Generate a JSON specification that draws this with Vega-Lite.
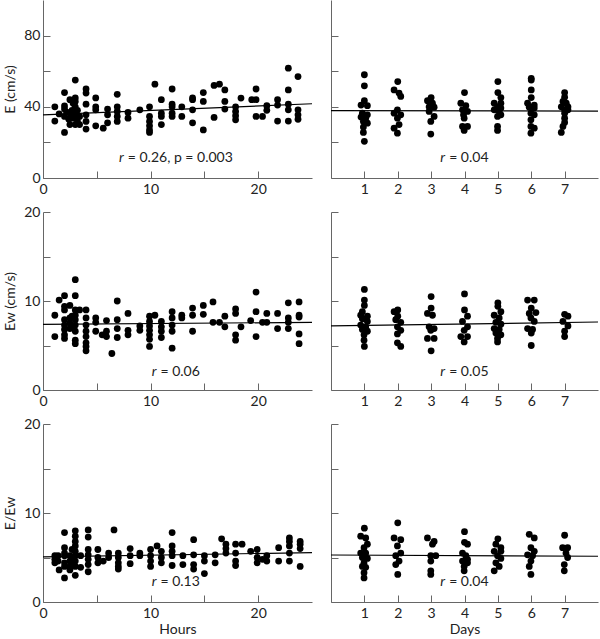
{
  "$schema": "https://vega.github.io/schema/vega-lite/v6.json",
  "autosize": {"type": "pad"},
  "padding": {"left": 3, "top": 0, "right": 0, "bottom": 0},
  "config": {
    "font": "Lato",
    "view": {"stroke": null},
    "axis": {
      "domainColor": "#666666", "tickColor": "#666666", "labelColor": "#222222", "titleColor": "#222222",
      "labelFontSize": 14, "titleFontSize": 14, "titleFontWeight": "normal",
      "tickSize": -7, "grid": false, "labelFlush": false
    },
    "axisX": {"labelPadding": 11, "titlePadding": 2},
    "axisY": {"labelPadding": 10, "minExtent": 22, "maxExtent": 22, "titlePadding": 4},
    "circle": {"size": 46, "color": "#000000", "opacity": 1},
    "line": {"color": "#000000", "strokeWidth": 1.2},
    "text": {"fontSize": 14, "color": "#222222", "baseline": "middle"}
  },
  "datasets": {
    "tl": [
      {"x":1.1,"y":40},{"x":1.1,"y":32},{"x":1.5,"y":36},{"x":2,"y":48},{"x":2,"y":40.5},{"x":2,"y":38.7},{"x":2,"y":34.6},{"x":2,"y":25.6},{"x":2.2,"y":37},{"x":2.4,"y":33},{"x":2.5,"y":44},{"x":2.5,"y":36.4},{"x":2.5,"y":30},{"x":2.7,"y":38},{"x":2.7,"y":33.6},{"x":2.8,"y":42},{"x":3,"y":55},{"x":3,"y":45},{"x":3,"y":43},{"x":3,"y":40},{"x":3,"y":35.5},{"x":3,"y":33.6},{"x":3,"y":30},{"x":3.2,"y":38},{"x":3.2,"y":32},{"x":3.4,"y":34.6},{"x":3.4,"y":30},{"x":4,"y":50},{"x":4,"y":47.7},{"x":4,"y":41.5},{"x":4,"y":35.5},{"x":4,"y":31.8},{"x":4,"y":27.5},{"x":4.9,"y":45},{"x":4.9,"y":40},{"x":4.9,"y":38.3},{"x":4.9,"y":29.3},{"x":5.6,"y":28},{"x":6,"y":38.7},{"x":6,"y":35.5},{"x":6,"y":31},{"x":6.9,"y":47},{"x":6.9,"y":40},{"x":6.9,"y":37.4},{"x":6.9,"y":34.6},{"x":6.9,"y":31.8},{"x":7.9,"y":36.8},{"x":7.9,"y":33.6},{"x":9,"y":38.3},{"x":9.9,"y":40},{"x":9.9,"y":34.6},{"x":9.9,"y":31.8},{"x":9.9,"y":29.3},{"x":9.9,"y":27},{"x":9.9,"y":25.6},{"x":10.4,"y":52.7},{"x":11,"y":44},{"x":11,"y":36.4},{"x":11,"y":34.6},{"x":11,"y":30},{"x":12,"y":50},{"x":12,"y":41.5},{"x":12,"y":40},{"x":12,"y":36.4},{"x":12,"y":34.6},{"x":12.9,"y":40},{"x":12.9,"y":34.6},{"x":13.9,"y":45},{"x":13.9,"y":44},{"x":13.9,"y":38.3},{"x":13.9,"y":31},{"x":14.9,"y":48},{"x":14.9,"y":43},{"x":14.9,"y":27},{"x":15.9,"y":52},{"x":15.9,"y":34},{"x":16.4,"y":52.7},{"x":16.9,"y":49.5},{"x":16.9,"y":43},{"x":16.9,"y":38.7},{"x":17.9,"y":40},{"x":17.9,"y":37.4},{"x":17.9,"y":35},{"x":17.9,"y":32.7},{"x":18.4,"y":44.9},{"x":19.4,"y":44},{"x":19.8,"y":50},{"x":19.8,"y":44},{"x":19.8,"y":34.6},{"x":20.4,"y":34.6},{"x":20.8,"y":40.6},{"x":20.8,"y":38},{"x":21.8,"y":44},{"x":21.8,"y":41},{"x":21.8,"y":32},{"x":22.8,"y":61.7},{"x":22.8,"y":49.5},{"x":22.8,"y":41.5},{"x":22.8,"y":38.3},{"x":22.8,"y":32},{"x":23.7,"y":57},{"x":23.7,"y":38.3},{"x":23.7,"y":35.5},{"x":23.7,"y":33}
    ],
    "ml": [
      {"x":1.1,"y":8.4},{"x":1.1,"y":6.0},{"x":1.5,"y":10.1},{"x":2,"y":10.6},{"x":2,"y":9.4},{"x":2,"y":9.0},{"x":2,"y":7.9},{"x":2,"y":7.3},{"x":2,"y":6.8},{"x":2,"y":6.2},{"x":2,"y":5.8},{"x":2.5,"y":9.5},{"x":2.5,"y":8.1},{"x":2.5,"y":7.5},{"x":2.5,"y":6.9},{"x":2.7,"y":8.3},{"x":2.7,"y":7.1},{"x":3,"y":12.4},{"x":3,"y":10.6},{"x":3,"y":9.0},{"x":3,"y":8.4},{"x":3,"y":7.9},{"x":3,"y":7.3},{"x":3,"y":6.6},{"x":3,"y":5.6},{"x":3,"y":5.2},{"x":3.4,"y":9.0},{"x":4,"y":9.0},{"x":4,"y":8.1},{"x":4,"y":7.3},{"x":4,"y":6.6},{"x":4,"y":6.0},{"x":4,"y":5.3},{"x":4,"y":4.9},{"x":4,"y":4.4},{"x":4.9,"y":8.1},{"x":4.9,"y":7.6},{"x":4.9,"y":6.6},{"x":5.5,"y":6.2},{"x":5.9,"y":7.8},{"x":5.9,"y":6.6},{"x":5.9,"y":6.0},{"x":6.4,"y":4.1},{"x":6.9,"y":10.0},{"x":6.9,"y":7.9},{"x":6.9,"y":6.9},{"x":6.9,"y":5.9},{"x":7.9,"y":8.6},{"x":7.9,"y":6.7},{"x":7.9,"y":6.2},{"x":9,"y":7.2},{"x":9,"y":6.7},{"x":9.9,"y":8.3},{"x":9.9,"y":7.7},{"x":9.9,"y":7.2},{"x":9.9,"y":6.7},{"x":9.9,"y":6.2},{"x":9.9,"y":5.7},{"x":9.9,"y":4.9},{"x":10.4,"y":8.4},{"x":11,"y":7.7},{"x":11,"y":7.1},{"x":11,"y":6.6},{"x":11,"y":5.9},{"x":12,"y":8.8},{"x":12,"y":8.1},{"x":12,"y":7.3},{"x":12,"y":6.6},{"x":12,"y":4.7},{"x":12.9,"y":8.4},{"x":12.9,"y":8.1},{"x":13.9,"y":9.2},{"x":13.9,"y":8.4},{"x":13.9,"y":6.6},{"x":14.9,"y":9.5},{"x":14.9,"y":8.5},{"x":15.8,"y":9.9},{"x":15.8,"y":7.6},{"x":16.4,"y":7.6},{"x":16.9,"y":8.3},{"x":16.9,"y":7.1},{"x":17.9,"y":9.1},{"x":17.9,"y":8.6},{"x":17.9,"y":6.2},{"x":17.9,"y":5.6},{"x":18.4,"y":7.1},{"x":19.3,"y":7.8},{"x":19.8,"y":11.0},{"x":19.8,"y":8.8},{"x":19.8,"y":6.0},{"x":20.4,"y":7.6},{"x":20.8,"y":8.6},{"x":20.8,"y":7.6},{"x":21.8,"y":8.6},{"x":21.8,"y":6.9},{"x":22.8,"y":9.8},{"x":22.8,"y":8.1},{"x":22.8,"y":7.6},{"x":22.8,"y":6.9},{"x":23.8,"y":9.9},{"x":23.8,"y":8.4},{"x":23.8,"y":8.2},{"x":23.8,"y":6.3},{"x":23.8,"y":5.2}
    ],
    "bl": [
      {"x":1.1,"y":5.2},{"x":1.1,"y":4.8},{"x":1.1,"y":4.4},{"x":1.4,"y":5.2},{"x":1.4,"y":4.6},{"x":1.5,"y":3.6},{"x":2,"y":7.8},{"x":2,"y":6.1},{"x":2,"y":5.5},{"x":2,"y":5.2},{"x":2,"y":4.4},{"x":2,"y":4.0},{"x":2,"y":2.7},{"x":2.5,"y":5.2},{"x":2.5,"y":4.6},{"x":2.5,"y":4.0},{"x":2.5,"y":3.6},{"x":2.7,"y":5.9},{"x":2.7,"y":4.8},{"x":2.7,"y":4.4},{"x":3,"y":8.0},{"x":3,"y":7.4},{"x":3,"y":6.8},{"x":3,"y":6.3},{"x":3,"y":5.7},{"x":3,"y":5.2},{"x":3,"y":4.6},{"x":3,"y":4.0},{"x":3,"y":3.0},{"x":3.5,"y":5.2},{"x":3.5,"y":3.9},{"x":4.2,"y":8.1},{"x":4.2,"y":7.3},{"x":4.2,"y":5.9},{"x":4.2,"y":5.3},{"x":4.2,"y":4.8},{"x":4.2,"y":4.2},{"x":4.2,"y":3.4},{"x":5.1,"y":5.9},{"x":5.1,"y":5.0},{"x":5.1,"y":4.4},{"x":5.6,"y":4.6},{"x":6.1,"y":5.5},{"x":6.1,"y":5.0},{"x":6.6,"y":8.1},{"x":7,"y":5.5},{"x":7,"y":5.0},{"x":7,"y":4.4},{"x":7,"y":4.0},{"x":7,"y":3.7},{"x":8.1,"y":6.0},{"x":8.1,"y":5.2},{"x":8.1,"y":4.3},{"x":9,"y":5.5},{"x":9,"y":5.2},{"x":10,"y":5.9},{"x":10,"y":5.2},{"x":10,"y":4.6},{"x":10,"y":4.0},{"x":10.6,"y":6.3},{"x":11,"y":5.7},{"x":11,"y":5.0},{"x":11,"y":4.4},{"x":12,"y":7.8},{"x":12,"y":6.3},{"x":12,"y":5.7},{"x":12,"y":5.2},{"x":12,"y":4.1},{"x":13,"y":5.2},{"x":13,"y":4.2},{"x":14,"y":7.0},{"x":14,"y":5.3},{"x":14,"y":4.2},{"x":14,"y":3.7},{"x":15,"y":5.2},{"x":15,"y":4.6},{"x":15,"y":3.2},{"x":16,"y":5.3},{"x":16,"y":4.4},{"x":16.6,"y":7.1},{"x":17,"y":6.5},{"x":17,"y":6.0},{"x":17,"y":5.5},{"x":17.9,"y":6.5},{"x":17.9,"y":5.5},{"x":17.9,"y":4.6},{"x":17.9,"y":4.1},{"x":18.5,"y":6.5},{"x":19.3,"y":5.7},{"x":19.9,"y":5.9},{"x":19.9,"y":5.0},{"x":19.9,"y":4.4},{"x":20.4,"y":4.8},{"x":20.8,"y":5.2},{"x":20.8,"y":4.6},{"x":21.9,"y":6.1},{"x":21.9,"y":4.6},{"x":22.9,"y":7.2},{"x":22.9,"y":6.8},{"x":22.9,"y":6.3},{"x":22.9,"y":5.5},{"x":22.9,"y":4.6},{"x":23.9,"y":6.8},{"x":23.9,"y":6.5},{"x":23.9,"y":6.0},{"x":23.9,"y":4.0}
    ],
    "tr": [
      {"x":1,"y":58},{"x":1,"y":51.8},{"x":1,"y":43.4},{"x":0.9,"y":41},{"x":1.09,"y":40.6},{"x":0.94,"y":36.4},{"x":1.09,"y":35.5},{"x":0.9,"y":34.2},{"x":1.04,"y":33.6},{"x":0.97,"y":31.8},{"x":1.09,"y":30.8},{"x":0.97,"y":28.6},{"x":0.97,"y":25.6},{"x":1,"y":20.6},
      {"x":2,"y":54.2},{"x":1.89,"y":49.5},{"x":2.04,"y":47.7},{"x":2.09,"y":45.8},{"x":1.99,"y":38.3},{"x":1.89,"y":36.4},{"x":2.09,"y":35.5},{"x":1.99,"y":33.6},{"x":2.04,"y":30},{"x":1.89,"y":28},{"x":1.99,"y":25.2},
      {"x":3,"y":45.2},{"x":2.89,"y":43.4},{"x":3.04,"y":42},{"x":2.94,"y":40},{"x":3.09,"y":39.8},{"x":2.94,"y":37.4},{"x":3.09,"y":34.6},{"x":2.99,"y":31.8},{"x":2.99,"y":24.7},
      {"x":4,"y":48},{"x":3.89,"y":42},{"x":4.04,"y":40.6},{"x":3.94,"y":38.3},{"x":4.09,"y":37.4},{"x":3.97,"y":35.5},{"x":3.99,"y":33.6},{"x":3.94,"y":29},{"x":4.09,"y":29},{"x":3.99,"y":26.7},
      {"x":5,"y":54.2},{"x":5,"y":48},{"x":5.09,"y":45.2},{"x":4.89,"y":42},{"x":5.09,"y":42},{"x":4.99,"y":40},{"x":5.09,"y":39.3},{"x":4.89,"y":38.3},{"x":5.04,"y":37.4},{"x":4.99,"y":34.6},{"x":5.09,"y":35.5},{"x":4.99,"y":29},{"x":4.99,"y":26.7},
      {"x":6,"y":56},{"x":6,"y":55},{"x":6,"y":49.5},{"x":6,"y":45.2},{"x":5.89,"y":42},{"x":6.09,"y":41},{"x":5.94,"y":39.8},{"x":6.09,"y":39.3},{"x":5.99,"y":36.4},{"x":6.09,"y":35.5},{"x":5.99,"y":32.7},{"x":5.99,"y":29},{"x":6.09,"y":28},{"x":5.99,"y":25.2},
      {"x":7,"y":48},{"x":7,"y":45.4},{"x":6.95,"y":43},{"x":7.05,"y":42},{"x":6.9,"y":40},{"x":7.1,"y":40},{"x":7,"y":38.3},{"x":7.1,"y":38.3},{"x":7,"y":36.4},{"x":7,"y":33.6},{"x":7,"y":31.2},{"x":6.95,"y":29},{"x":6.9,"y":25.6}
    ],
    "mr": [
      {"x":1,"y":11.3},{"x":1,"y":10.1},{"x":1,"y":9.5},{"x":0.94,"y":8.8},{"x":0.89,"y":8.4},{"x":1.09,"y":8.3},{"x":0.94,"y":8},{"x":1.09,"y":7.7},{"x":0.89,"y":7.3},{"x":1.04,"y":7.1},{"x":0.94,"y":6.8},{"x":1.09,"y":6.6},{"x":0.99,"y":6.2},{"x":0.99,"y":5.6},{"x":1,"y":4.9},
      {"x":2,"y":9.0},{"x":1.89,"y":8.8},{"x":2,"y":8.3},{"x":1.94,"y":7.9},{"x":2.09,"y":7.6},{"x":1.99,"y":7.1},{"x":2.09,"y":6.7},{"x":1.99,"y":6.3},{"x":1.99,"y":5.3},{"x":2.09,"y":4.9},
      {"x":3,"y":10.5},{"x":3,"y":9.2},{"x":2.89,"y":8.6},{"x":3.04,"y":8.4},{"x":2.94,"y":7.1},{"x":3.09,"y":6.9},{"x":2.99,"y":6.7},{"x":2.89,"y":5.8},{"x":3.09,"y":5.8},{"x":3,"y":4.4},
      {"x":4,"y":10.8},{"x":4,"y":9.0},{"x":4.09,"y":8.3},{"x":3.94,"y":7.7},{"x":4.09,"y":7.1},{"x":3.99,"y":6.7},{"x":3.89,"y":6.0},{"x":4.09,"y":6.0},{"x":3.99,"y":5.4},
      {"x":5,"y":9.8},{"x":5,"y":9.4},{"x":5.09,"y":8.8},{"x":4.89,"y":8.4},{"x":5.04,"y":8.1},{"x":4.94,"y":7.6},{"x":5.09,"y":7.4},{"x":4.89,"y":6.9},{"x":5.04,"y":6.8},{"x":4.94,"y":6.4},{"x":5.09,"y":6.2},{"x":4.99,"y":5.8},{"x":4.99,"y":5.4},
      {"x":5.89,"y":10.1},{"x":6.09,"y":10.1},{"x":6,"y":9.2},{"x":5.94,"y":8.6},{"x":6.14,"y":8.7},{"x":5.99,"y":8.1},{"x":6.09,"y":7.7},{"x":5.89,"y":6.9},{"x":6.04,"y":6.8},{"x":6,"y":6.4},{"x":6,"y":5.0},
      {"x":7,"y":8.5},{"x":7.1,"y":8.3},{"x":6.95,"y":7.7},{"x":7.1,"y":7.2},{"x":7,"y":6.6},{"x":7,"y":6.0}
    ],
    "br": [
      {"x":1,"y":8.3},{"x":0.89,"y":7.4},{"x":1.04,"y":7.2},{"x":1.09,"y":6.5},{"x":0.99,"y":6.1},{"x":0.89,"y":5.5},{"x":1.04,"y":5.5},{"x":0.94,"y":5.0},{"x":1.09,"y":4.9},{"x":0.99,"y":4.4},{"x":0.94,"y":4.0},{"x":1.04,"y":3.9},{"x":0.99,"y":3.3},{"x":0.99,"y":2.7},
      {"x":2,"y":8.9},{"x":1.89,"y":7.2},{"x":2.09,"y":7.0},{"x":1.99,"y":6.3},{"x":2.09,"y":5.5},{"x":1.94,"y":5.2},{"x":2.04,"y":4.6},{"x":1.94,"y":4.2},{"x":2,"y":3.1},
      {"x":2.89,"y":7.2},{"x":3.09,"y":6.8},{"x":3.04,"y":6.5},{"x":2.99,"y":5.2},{"x":3.14,"y":5.2},{"x":2.99,"y":4.6},{"x":2.99,"y":3.5},{"x":2.99,"y":3.1},
      {"x":4,"y":7.9},{"x":4,"y":6.7},{"x":4.09,"y":6.5},{"x":3.94,"y":5.5},{"x":4.04,"y":5.2},{"x":4.09,"y":4.8},{"x":3.94,"y":4.6},{"x":4.09,"y":4.4},{"x":3.99,"y":4.0},{"x":3.99,"y":3.5},
      {"x":5,"y":7.1},{"x":4.94,"y":6.5},{"x":5.09,"y":6.1},{"x":4.89,"y":5.7},{"x":5.09,"y":5.7},{"x":4.99,"y":5.2},{"x":5.09,"y":4.9},{"x":4.94,"y":4.4},{"x":5.04,"y":4.0},{"x":4.89,"y":3.5},
      {"x":5.94,"y":7.6},{"x":6.09,"y":7.2},{"x":5.99,"y":6.1},{"x":6.09,"y":5.7},{"x":5.89,"y":5.3},{"x":6.04,"y":5.2},{"x":5.99,"y":4.6},{"x":5.94,"y":4.0},{"x":5.99,"y":3.1},
      {"x":7,"y":7.5},{"x":6.94,"y":6.1},{"x":7.09,"y":6.1},{"x":7.04,"y":5.5},{"x":7.09,"y":5.0},{"x":6.99,"y":4.2},{"x":6.99,"y":3.5}
    ]
  },
  "columns": 2,
  "spacing": {"row": 34, "column": 19},
  "bounds": "flush",
  "concat": [
    {
      "width": 269, "height": 178,
      "encoding": {
        "x": {"field": "x", "type": "quantitative", "scale": {"domain": [0, 25], "nice": false}, "axis": {"title": null, "values": [0, 5, 10, 15, 20], "labelExpr": "datum.value % 10 === 0 ? datum.label : ''"}},
        "y": {"field": "y", "type": "quantitative", "scale": {"domain": [0, 100], "nice": false}, "axis": {"title": "E (cm/s)", "values": [0, 20, 40, 60, 80], "labelExpr": "datum.value % 40 === 0 ? datum.label : ''"}}
      },
      "layer": [
        {"data": {"name": "tl"}, "mark": {"type": "circle"}},
        {"data": {"values": [{"x": 0, "y": 35.5}, {"x": 25, "y": 41.7}]}, "mark": {"type": "line"}},
        {"data": {"values": [{"x": 7.6, "y": 11.3, "t": "= 0.26, p = 0.003"}]}, "mark": {"type": "text", "align": "right", "fontStyle": "italic", "dx": -1}, "encoding": {"text": {"value": "r"}}},
        {"data": {"values": [{"x": 7.6, "y": 11.3, "t": "= 0.26, p = 0.003"}]}, "mark": {"type": "text", "align": "left", "dx": 3}, "encoding": {"text": {"field": "t"}}}
      ]
    },
    {
      "width": 267, "height": 178,
      "encoding": {
        "x": {"field": "x", "type": "quantitative", "scale": {"domain": [0, 8], "nice": false}, "axis": {"title": null, "values": [1, 2, 3, 4, 5, 6, 7]}},
        "y": {"field": "y", "type": "quantitative", "scale": {"domain": [0, 100], "nice": false}, "axis": {"title": null, "labels": false, "values": [0, 20, 40, 60, 80]}}
      },
      "layer": [
        {"data": {"name": "tr"}, "mark": {"type": "circle"}},
        {"data": {"values": [{"x": 0, "y": 37.9}, {"x": 8, "y": 37.6}]}, "mark": {"type": "line"}},
        {"data": {"values": [{"x": 3.45, "y": 11.3, "t": "= 0.04"}]}, "mark": {"type": "text", "align": "right", "fontStyle": "italic", "dx": -1}, "encoding": {"text": {"value": "r"}}},
        {"data": {"values": [{"x": 3.45, "y": 11.3, "t": "= 0.04"}]}, "mark": {"type": "text", "align": "left", "dx": 3}, "encoding": {"text": {"field": "t"}}}
      ]
    },
    {
      "width": 269, "height": 178,
      "encoding": {
        "x": {"field": "x", "type": "quantitative", "scale": {"domain": [0, 25], "nice": false}, "axis": {"title": null, "values": [0, 5, 10, 15, 20], "labelExpr": "datum.value % 10 === 0 ? datum.label : ''"}},
        "y": {"field": "y", "type": "quantitative", "scale": {"domain": [0, 20], "nice": false}, "axis": {"title": "Ew (cm/s)", "values": [0, 5, 10, 15, 20], "labelExpr": "datum.value % 10 === 0 ? datum.label : ''"}}
      },
      "layer": [
        {"data": {"name": "ml"}, "mark": {"type": "circle"}},
        {"data": {"values": [{"x": 0, "y": 7.38}, {"x": 25, "y": 7.6}]}, "mark": {"type": "line"}},
        {"data": {"values": [{"x": 10.64, "y": 2.02, "t": "= 0.06"}]}, "mark": {"type": "text", "align": "right", "fontStyle": "italic", "dx": -1}, "encoding": {"text": {"value": "r"}}},
        {"data": {"values": [{"x": 10.64, "y": 2.02, "t": "= 0.06"}]}, "mark": {"type": "text", "align": "left", "dx": 3}, "encoding": {"text": {"field": "t"}}}
      ]
    },
    {
      "width": 267, "height": 178,
      "encoding": {
        "x": {"field": "x", "type": "quantitative", "scale": {"domain": [0, 8], "nice": false}, "axis": {"title": null, "values": [1, 2, 3, 4, 5, 6, 7]}},
        "y": {"field": "y", "type": "quantitative", "scale": {"domain": [0, 20], "nice": false}, "axis": {"title": null, "labels": false, "values": [0, 5, 10, 15, 20]}}
      },
      "layer": [
        {"data": {"name": "mr"}, "mark": {"type": "circle"}},
        {"data": {"values": [{"x": 0, "y": 7.2}, {"x": 8, "y": 7.64}]}, "mark": {"type": "line"}},
        {"data": {"values": [{"x": 3.45, "y": 2.02, "t": "= 0.05"}]}, "mark": {"type": "text", "align": "right", "fontStyle": "italic", "dx": -1}, "encoding": {"text": {"value": "r"}}},
        {"data": {"values": [{"x": 3.45, "y": 2.02, "t": "= 0.05"}]}, "mark": {"type": "text", "align": "left", "dx": 3}, "encoding": {"text": {"field": "t"}}}
      ]
    },
    {
      "width": 269, "height": 178,
      "encoding": {
        "x": {"field": "x", "type": "quantitative", "scale": {"domain": [0, 25], "nice": false}, "axis": {"title": "Hours", "values": [0, 5, 10, 15, 20], "labelExpr": "datum.value % 10 === 0 ? datum.label : ''"}},
        "y": {"field": "y", "type": "quantitative", "scale": {"domain": [0, 20], "nice": false}, "axis": {"title": "E/Ew", "values": [0, 5, 10, 15, 20], "labelExpr": "datum.value % 10 === 0 ? datum.label : ''"}}
      },
      "layer": [
        {"data": {"name": "bl"}, "mark": {"type": "circle"}},
        {"data": {"values": [{"x": 0, "y": 5.06}, {"x": 25, "y": 5.55}]}, "mark": {"type": "line"}},
        {"data": {"values": [{"x": 10.64, "y": 2.23, "t": "= 0.13"}]}, "mark": {"type": "text", "align": "right", "fontStyle": "italic", "dx": -1}, "encoding": {"text": {"value": "r"}}},
        {"data": {"values": [{"x": 10.64, "y": 2.23, "t": "= 0.13"}]}, "mark": {"type": "text", "align": "left", "dx": 3}, "encoding": {"text": {"field": "t"}}}
      ]
    },
    {
      "width": 267, "height": 178,
      "encoding": {
        "x": {"field": "x", "type": "quantitative", "scale": {"domain": [0, 8], "nice": false}, "axis": {"title": "Days", "values": [1, 2, 3, 4, 5, 6, 7]}},
        "y": {"field": "y", "type": "quantitative", "scale": {"domain": [0, 20], "nice": false}, "axis": {"title": null, "labels": false, "values": [0, 5, 10, 15, 20]}}
      },
      "layer": [
        {"data": {"name": "br"}, "mark": {"type": "circle"}},
        {"data": {"values": [{"x": 0, "y": 5.28}, {"x": 8, "y": 5.14}]}, "mark": {"type": "line"}},
        {"data": {"values": [{"x": 3.45, "y": 2.23, "t": "= 0.04"}]}, "mark": {"type": "text", "align": "right", "fontStyle": "italic", "dx": -1}, "encoding": {"text": {"value": "r"}}},
        {"data": {"values": [{"x": 3.45, "y": 2.23, "t": "= 0.04"}]}, "mark": {"type": "text", "align": "left", "dx": 3}, "encoding": {"text": {"field": "t"}}}
      ]
    }
  ]
}
